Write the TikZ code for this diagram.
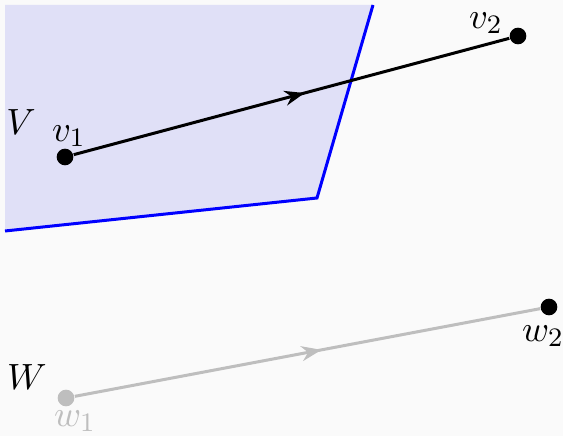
\documentclass[tikz,border=0pt]{standalone}
\usetikzlibrary{arrows.meta,decorations.markings}
\definecolor{bgc}{RGB}{250,250,250}
\definecolor{regfill}{RGB}{224,224,247}
\definecolor{lgray}{RGB}{190,190,190}
\begin{document}
\begin{tikzpicture}[x=0.3pt,y=-0.3pt,
  dot/.style={circle,fill,inner sep=0pt,minimum size=5pt},
  lbl/.style={inner sep=0pt,font=\fontsize{11}{13}\selectfont},
  vec/.style={line width=0.9pt,postaction={decorate},
    decoration={markings,mark=at position 0.53 with {\arrow{Stealth[length=6pt,width=4.5pt]}}}}]
\fill[bgc] (0,0) rectangle (563,436);
\useasboundingbox (0,0) rectangle (563,436);
\fill[regfill] (5,5) -- (373,5) -- (317,198) -- (5,231) -- cycle;
\draw[blue,line width=0.9pt] (373,5) -- (317,198) -- (5,231);
\node[dot] (v1) at (65,157) {};
\node[dot] (v2) at (518,36) {};
\node[dot,lgray] (w1) at (66,398) {};
\node[dot] (w2) at (549,307) {};
\draw[vec] (v1) -- (v2);
\draw[vec,lgray] (w1) -- (w2);
\node[lbl] (V) at (21,122) {$V$};
\node[lbl] (W) at (27,377) {$W$};
\node[lbl] (v1l) at (69,136) {$v_1$};
\node[lbl] (v2l) at (486,23) {$v_2$};
\node[lbl,text=lgray] (w1l) at (75,421) {$w_1$};
\node[lbl] (w2l) at (543,336) {$w_2$};
\end{tikzpicture}
\end{document}
